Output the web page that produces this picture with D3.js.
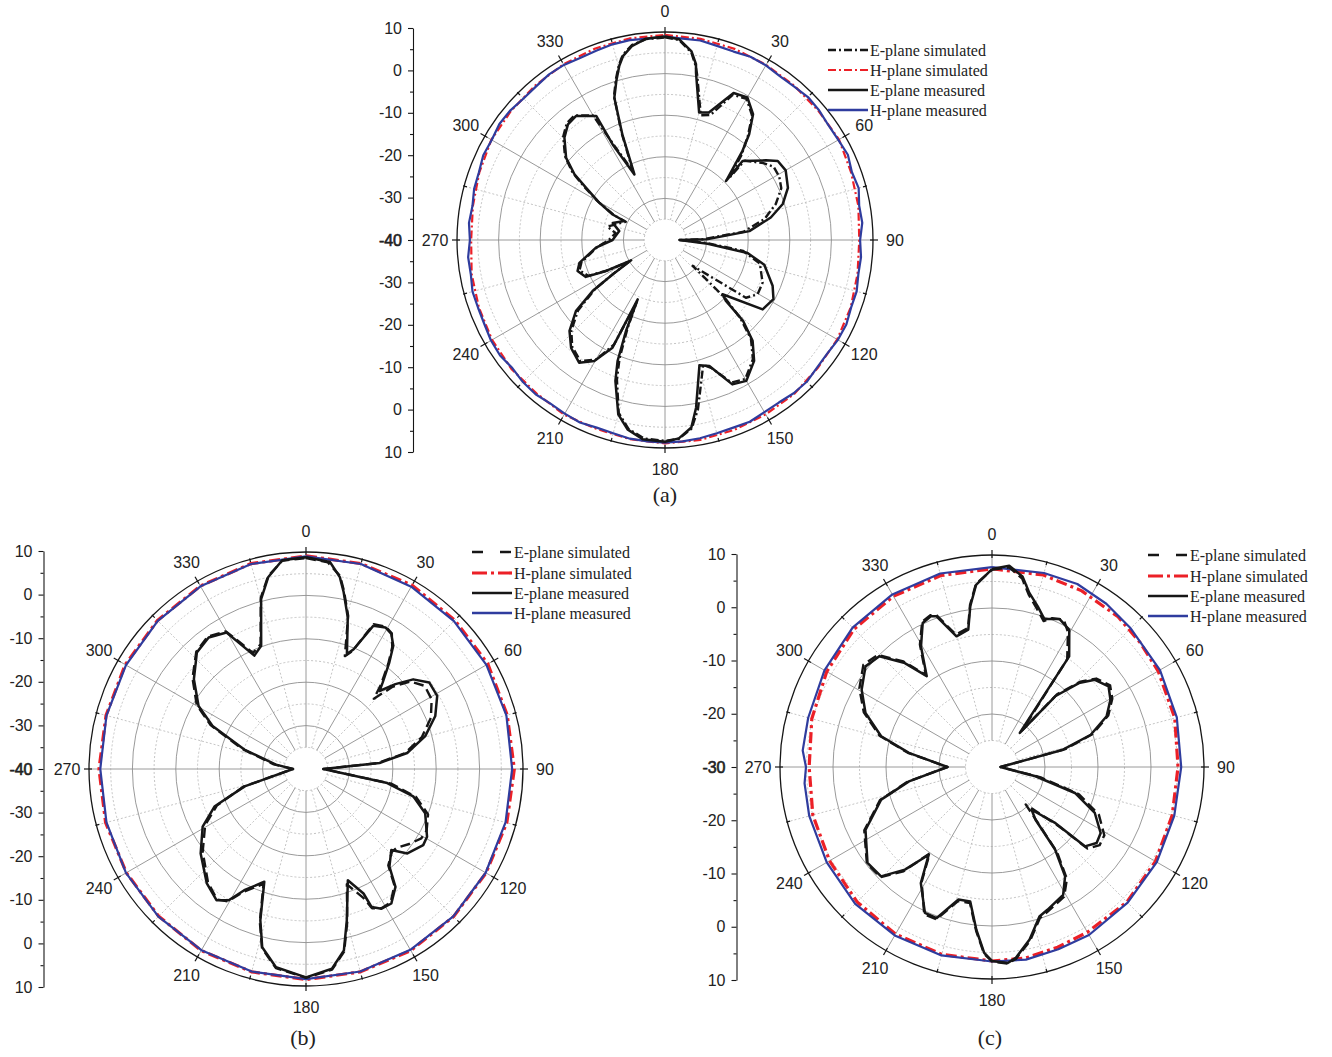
<!DOCTYPE html>
<html>
<head>
<meta charset="utf-8">
<script src="https://cdn.jsdelivr.net/npm/d3@7"></script>
<style>
  body { margin: 0; background: #fff; }
  svg { display: block; }
</style>
</head>
<body>
<svg id="chart" width="1332" height="1057"></svg>
<script>
// ---------- DATA: [angle in degrees, gain in dB] ----------
const angleTicks = [0, 30, 60, 90, 120, 150, 180, 210, 240, 270, 300, 330];
const radialLabelsAB = [10, 0, -10, -20, -30, -40, -30, -20, -10, 0, 10];
const radialLabelsC = [10, 0, -10, -20, -30, -20, -10, 0, 10];
const legendLabels = ['E-plane simulated', 'H-plane simulated', 'E-plane measured', 'H-plane measured'];
const panelNames = ['(a)', '(b)', '(c)'];

// (a)
const aEMeas = [[0,8.9],[4,8.4],[8,5.8],[10,2.9],[10.5,0.9],[15,-8.3],[19,-7.6],[25,-1.0],[30,-0.4],[35,-3.1],[38.5,-7.5],[41,-11.6],[46,-19.6],[44.5,-13.4],[51.7,-9.1],[55,-6.9],[60,-6.5],[67,-7.9],[73,-10.4],[78,-14],[84,-19.6],[89,-30],[90,-36.5],[95,-29.7],[99,-19.9],[104,-15.4],[113,-11.9],[118.6,-10.3],[125.4,-11.2],[133.3,-21],[135,-19.3],[136,-13],[139,-7.9],[143.6,-3.9],[150,-0.9],[155,-1.7],[160.6,-7.9],[164.6,-8.8],[169.5,1],[172,5.5],[176,7.8],[180,8.5],[186.4,8.2],[191.2,6.4],[195,3.4],[199.4,-4.1],[201.4,-8.75],[203.2,-16.2],[204.7,-24.3],[206,-11.2],[210.3,-6.3],[215,-4],[221,-5.6],[226.4,-8.3],[231.4,-12.6],[234.8,-18.7],[236.7,-25],[239,-30.5],[242.3,-24],[245,-19],[250.5,-17.7],[255,-18.7],[263.7,-23.3],[270,-27.4],[281,-28.8],[288,-26.8],[295,-29.2],[296,-26],[299.6,-21.8],[303.5,-17.2],[306,-13.1],[309.7,-9.1],[315.5,-5.5],[320,-3.7],[324.3,-3.3],[331,-5.9],[331.3,-13.8],[335,-22.6],[338,-12.6],[340.4,-3.7],[343,0],[345.3,3.3],[347.2,5.4],[350.3,7.3],[354.6,8.6],[360,8.9]];
const aESim = [[0,8.7],[4,8.2],[8,5.5],[10,2.5],[11,0.5],[16,-8.8],[20,-8.0],[25,-1.5],[30,-0.8],[35,-3.5],[38.5,-8],[42,-12.5],[46,-18.5],[45,-13],[52,-10],[56,-8.5],[61,-8.6],[66,-9.4],[72,-12],[78,-15.5],[84,-21],[89,-31],[90,-36.5],[94,-30],[98,-21],[104,-16.5],[113.6,-14.4],[120.4,-14.2],[125.5,-16.1],[133,-30.9],[134,-20],[136,-14],[139,-8.5],[143.6,-4.4],[150,-1.4],[155,-2.2],[160,-7.2],[163,-8.6],[169,1.5],[172,5.8],[176,7.9],[180,8.3],[186,8.0],[191,6.2],[195,3.0],[199,-4.5],[201,-9.5],[203,-17],[204.5,-23.5],[206,-12],[210,-6.8],[215,-4.5],[221,-6],[226,-8.7],[231,-13.1],[235,-19.5],[237,-25.5],[239,-30],[242,-24.5],[245,-19.6],[250.5,-18.2],[255,-19.2],[264,-23.6],[270,-26.5],[278,-28],[283,-25.8],[288,-27.6],[295,-29.6],[296,-26.3],[300,-21.2],[303.5,-16.6],[306,-12.6],[310,-8.6],[315.5,-5.1],[320,-3.3],[324,-3.0],[330,-5.4],[331.5,-13.2],[335,-21.8],[338,-12],[340.5,-3.3],[343,0.4],[345.3,3.6],[347.2,5.7],[350.3,7.5],[354.6,8.5],[360,8.7]];
const aHMeas = [[0,8.9],[5,8.6],[10,8.7],[15,8.3],[20,8.2],[25,8.6],[30,8.5],[35,8.1],[40,8.2],[45,8.6],[50,8.4],[55,8.0],[60,8.1],[65,8.5],[70,7.8],[75,8.2],[80,7.4],[85,7.6],[90,6.9],[95,7.3],[100,7.2],[105,7.7],[110,7.6],[115,8.1],[120,8.0],[125,7.6],[130,7.7],[135,8.2],[140,8.1],[145,7.7],[150,7.8],[155,8.2],[160,8.0],[165,8.1],[170,8.4],[175,8.6],[180,8.7],[185,8.6],[190,8.5],[195,8.1],[200,8.0],[205,8.4],[210,8.2],[215,8.0],[220,8.4],[225,8.3],[230,7.9],[235,8.4],[240,8.3],[245,7.9],[250,7.8],[255,7.9],[260,7.4],[265,7.5],[270,6.9],[275,7.3],[280,7.0],[285,7.5],[290,7.6],[295,8.2],[300,8.1],[305,8.6],[310,8.5],[315,8.1],[320,8.2],[325,8.6],[330,8.6],[335,8.3],[340,8.4],[345,8.7],[350,8.8],[355,8.6],[360,8.9]];
const aHSim = [[0,9.3],[10,9.1],[20,8.9],[30,8.6],[40,8.4],[50,8.2],[60,8.3],[70,7.6],[80,7.2],[90,6.7],[100,7.0],[110,7.5],[120,7.8],[130,7.9],[140,8.3],[150,8.4],[160,8.6],[170,8.8],[180,8.9],[190,8.6],[200,8.3],[210,8.5],[220,8.1],[230,8.2],[240,8.0],[250,7.6],[260,7.2],[270,6.6],[280,6.9],[290,7.5],[300,8.2],[310,8.3],[320,8.5],[330,8.8],[340,9.0],[350,9.2],[360,9.3]];

// (b)
const bEMeas = [[0,8.8],[6.6,8.0],[10,4.9],[12,1.7],[15.4,-3.75],[19.6,-11.9],[21.7,-10.3],[25.2,-3.5],[29.3,-2.6],[32.3,-3.2],[35.3,-5.2],[38,-8.8],[41.6,-13.4],[43.3,-15.3],[46.5,-11.6],[50.1,-7.8],[54.9,-5.3],[60.9,-5.4],[67.7,-7.8],[74.6,-11.5],[81,-16.4],[85.3,-23],[90,-36],[99.8,-21],[104.3,-14.5],[110.4,-10.7],[119.2,-8.05],[123,-7.8],[129.8,-9.6],[133.5,-12.9],[139.5,-10.4],[142.8,-5.9],[147.6,-3.3],[151.6,-3.4],[154.6,-4.8],[155.2,-8.4],[159.4,-12.6],[164.9,-3.9],[168.2,2.7],[172.6,6.4],[180,8.0],[188.6,6.2],[193.8,2.3],[196.8,-3.6],[200.3,-12.3],[207,-8.65],[210.5,-4.9],[214.3,-3.4],[220.9,-5.1],[231.3,-8.9],[240.9,-12.75],[247.7,-17.2],[254.2,-25.3],[270,-37],[278.3,-33],[287.5,-25.1],[294.7,-16.3],[300.4,-11.3],[308.7,-6.9],[316.9,-3.2],[323.5,-2.3],[329.8,-3.6],[335.5,-11.3],[340,-9.8],[345.2,0.5],[348.9,5.1],[353.5,8.4],[360,8.8]];
const bESim = [[0,8.6],[6,7.9],[10,5.2],[12,2.0],[15.4,-3.4],[19,-12.5],[21.5,-10.8],[25,-3.2],[29.3,-2.4],[32.3,-3.0],[35.3,-5.6],[38,-9.2],[41.6,-14],[44,-17.5],[46.5,-12.5],[50,-8.6],[55,-6.6],[61,-6.9],[67.7,-8.9],[74.6,-12.3],[81,-17],[85.3,-23.5],[90,-36],[99.8,-20],[104.3,-13.8],[110.4,-10],[117,-8.8],[121,-9.0],[126,-10.6],[131,-12.3],[134,-12.5],[139.5,-10.8],[142.8,-6.3],[147.6,-3.6],[151.6,-3.5],[154.6,-4.5],[156,-7.5],[160.5,-11.8],[164.9,-3.5],[168.2,3.0],[172.6,6.6],[180,8.1],[188.6,6.4],[193.8,2.5],[196.8,-3.2],[200.3,-11.8],[207,-8.2],[210.5,-4.6],[214.3,-3.6],[220.9,-5.5],[231.3,-9.5],[240.9,-13.4],[247.7,-17.8],[254.2,-25],[270,-37],[278.3,-32.5],[287.5,-24.6],[294.7,-15.8],[300.4,-10.8],[308.7,-6.5],[316.9,-3.0],[323.5,-2.0],[329.8,-3.3],[335.5,-10.6],[340,-9.4],[345.2,0.8],[348.9,5.3],[353.5,8.3],[360,8.6]];
const bHMeas = [[0,9.0],[15,8.9],[30,8.5],[45,8.2],[60,8.0],[75,7.8],[90,7.5],[105,7.6],[120,7.8],[135,8.0],[150,8.1],[165,8.3],[180,8.4],[195,8.3],[210,8.2],[225,8.1],[240,7.9],[255,7.6],[270,7.4],[285,7.6],[300,7.9],[315,8.3],[330,8.6],[345,8.9],[360,9.0]];
const bHSim = [[0,9.1],[15,9.0],[30,8.9],[45,8.5],[60,8.4],[75,8.0],[90,8.0],[105,7.9],[120,7.9],[135,8.1],[150,8.3],[165,8.4],[180,8.5],[195,8.4],[210,8.3],[225,8.0],[240,7.8],[255,7.8],[270,7.7],[285,7.7],[300,8.1],[315,8.4],[330,8.7],[345,9.0],[360,9.1]];

// (c)
const cEMeas = [[0,7.35],[4.9,8.1],[9.1,6.4],[12.1,3.6],[15.9,1.5],[19.5,-0.4],[24.5,0.7],[29.4,-0.3],[34.9,-4.55],[39.2,-21.7],[41.8,-12.1],[46,-7.2],[49.7,-4.55],[55.3,-3.25],[60.4,-4.3],[66.1,-6.35],[71.9,-10.4],[76.3,-16.2],[90,-28.4],[102,-21.6],[107.4,-13.6],[114.1,-8.75],[121.3,-6],[126,-5.6],[130.5,-6.95],[131.5,-14],[137.2,-19],[140.5,-17.1],[142.6,-10.4],[146.2,-5.2],[150.9,-2.4],[158.8,-1.1],[162.4,-0.4],[167.7,3.3],[172.9,6.3],[175.4,7.1],[180,6.6],[182.4,5.1],[185.5,0.85],[189.2,-4.3],[194.2,-4.2],[200.1,0.35],[204.7,0.3],[211.5,-4.3],[215.8,-9.6],[220.3,-4.6],[225.4,-0.6],[232.4,-0.35],[243.6,-3.35],[253.6,-8.2],[260.2,-14.1],[270,-21.6],[279.6,-14.1],[285.5,-8.3],[293.1,-4.05],[300.7,-1.4],[308.5,0.5],[314.5,-0.2],[320,-4.4],[324.3,-8.9],[329.5,-3.6],[334.3,0.15],[337.9,0.7],[339.8,0.3],[344.8,-4.45],[350.2,-3.7],[352.3,0.6],[355,4.5],[360,7.35]];
const cESim = [[0,7.2],[4.9,7.8],[9.1,6.0],[12.1,3.2],[15.9,1.0],[19.5,-0.8],[22,0.3],[26,0.9],[29.4,-0.8],[34.9,-5.2],[39.5,-21],[41.8,-11.6],[46,-6.8],[49.7,-4.2],[55.3,-2.9],[60.4,-3.9],[66.1,-6.0],[71.9,-10],[76.3,-15.8],[90,-28.4],[102,-20.6],[107.4,-12.8],[114.1,-7.9],[121.3,-5.2],[126,-4.9],[130.5,-6.3],[131.5,-13],[138,-20.5],[140.5,-16.5],[142.6,-9.8],[146.2,-4.6],[150.9,-2.0],[158.8,-0.8],[162.4,-0.1],[167.7,3.6],[172.9,6.5],[175.4,7.2],[180,6.7],[182.4,5.3],[185.5,1.1],[189.2,-4.0],[194.2,-3.9],[200.1,0.6],[204.7,0.6],[211.5,-4.6],[215.8,-9.9],[220.3,-4.2],[225.4,-0.4],[232.4,-0.2],[243.6,-3.1],[253.6,-8.0],[260.2,-13.9],[270,-21.6],[279.6,-13.9],[285.5,-8.0],[293.1,-3.7],[300.7,-0.9],[308.5,1.0],[314.5,0.2],[320,-4.0],[324.3,-8.6],[329.5,-3.2],[334.3,0.4],[337.9,0.9],[339.8,0.6],[344.8,-4.1],[350.2,-3.4],[352.3,0.9],[355,4.7],[360,7.2]];
const cHMeas = [[0,7.7],[15,7.9],[25,8.1],[35,7.6],[45,7.0],[60,6.6],[75,6.1],[90,5.7],[105,5.6],[120,5.9],[135,6.2],[150,6.6],[160,6.6],[170,6.9],[180,6.7],[195,6.8],[210,6.7],[225,6.5],[240,6.0],[255,5.7],[265,5.5],[270,5.1],[275,5.85],[285,5.9],[300,6.5],[315,7.2],[330,7.6],[345,7.8],[360,7.7]];
const cHSim = [[0,7.4],[15,7.5],[27,7.3],[40,7.0],[50,6.5],[60,6.2],[75,5.7],[90,5.1],[105,5.2],[120,5.6],[135,6.0],[150,6.0],[160,6.2],[170,6.6],[180,6.6],[195,6.6],[210,6.4],[225,6.0],[240,5.4],[255,5.0],[270,4.5],[285,5.2],[300,6.0],[315,6.8],[330,7.2],[345,7.4],[360,7.4]];

// ---------- SETUP ----------
const svg = d3.select('#chart');
const SANS = '"Liberation Sans", Arial, sans-serif';
const SERIF = '"Liberation Serif", "Times New Roman", serif';
const BLACK = '#161616', RED = '#ec2027', BLUE = '#2f3c9e';
const rad = a => a * Math.PI / 180;

const panels = [
  { cx: 665, cy: 240, R: 208, min: -40, axX: 413, axH: 212, labels: radialLabelsAB,
    legX: 828, legY: [50, 70, 90, 110], name: panelNames[0], nameX: 665, nameY: 494,
    eSimDash: '8,3,2,3', eSimLeg: '8,3,2,3', hSimDash: '8,3,2,3', hSimLeg: '8,3,2,3', hSimW: 2.2,
    eMeas: aEMeas, eSim: aESim, hMeas: aHMeas, hSim: aHSim },
  { cx: 306, cy: 769, R: 217, min: -40, axX: 43.5, axH: 218, labels: radialLabelsAB,
    legX: 472, legY: [552, 573, 593, 613], name: panelNames[1], nameX: 303, nameY: 1037,
    eSimDash: '10,5', eSimLeg: '11,17', hSimDash: '11,4,3,4', hSimLeg: '15,4,3,4', hSimW: 3.2,
    eMeas: bEMeas, eSim: bESim, hMeas: bHMeas, hSim: bHSim },
  { cx: 992, cy: 767, R: 212, min: -30, axX: 736.5, axH: 213, labels: radialLabelsC,
    legX: 1148, legY: [555, 576, 596, 616], name: panelNames[2], nameX: 990, nameY: 1037,
    eSimDash: '10,5', eSimLeg: '11,17', hSimDash: '11,4,3,4', hSimLeg: '15,4,3,4', hSimW: 3.2,
    eMeas: cEMeas, eSim: cESim, hMeas: cHMeas, hSim: cHSim }
];

// ---------- DRAW ----------
function drawPanel(p) {
  const g = svg.append('g').attr('transform', 'translate(' + p.cx + ',' + p.cy + ')');
  const r = d3.scaleLinear().domain([p.min, 10]).range([0, p.R]);
  const inner = r(p.min + 5);

  // GRID RINGS
  const rings = d3.range(p.min + 5, 10, 5);
  g.selectAll('.ring').data(rings).join('circle')
    .attr('class', 'ring')
    .attr('r', d => r(d))
    .attr('fill', 'none')
    .attr('stroke', d => d % 10 === 0 ? '#8f8f8f' : '#bdbdbd')
    .attr('stroke-width', 0.9)
    .attr('stroke-dasharray', d => d % 10 === 0 ? null : '2,2');

  // SPOKES
  const spokes = d3.range(0, 360, 15);
  g.selectAll('.spoke').data(spokes).join('line')
    .attr('class', 'spoke')
    .attr('x1', d => inner * Math.sin(rad(d)))
    .attr('y1', d => -inner * Math.cos(rad(d)))
    .attr('x2', d => p.R * Math.sin(rad(d)))
    .attr('y2', d => -p.R * Math.cos(rad(d)))
    .attr('stroke', d => d % 30 === 0 ? '#8f8f8f' : '#bdbdbd')
    .attr('stroke-width', 0.9)
    .attr('stroke-dasharray', d => d % 30 === 0 ? null : '2,2');

  // OUTER CIRCLE + TICKS
  g.append('circle').attr('r', p.R).attr('fill', 'none').attr('stroke', BLACK).attr('stroke-width', 1.3);
  g.selectAll('.atick').data(spokes).join('line')
    .attr('class', 'atick')
    .attr('x1', d => (p.R - 3) * Math.sin(rad(d)))
    .attr('y1', d => -(p.R - 3) * Math.cos(rad(d)))
    .attr('x2', d => (p.R + (d % 30 === 0 ? 5 : 1)) * Math.sin(rad(d)))
    .attr('y2', d => -(p.R + (d % 30 === 0 ? 5 : 1)) * Math.cos(rad(d)))
    .attr('stroke', BLACK)
    .attr('stroke-width', 1.2);

  // ANGLE LABELS
  g.selectAll('.alabel').data(angleTicks).join('text')
    .attr('class', 'alabel')
    .attr('x', d => (p.R + 22) * Math.sin(rad(d)))
    .attr('y', d => -(p.R + 21) * Math.cos(rad(d)))
    .attr('text-anchor', 'middle')
    .attr('dominant-baseline', 'central')
    .attr('font-family', SANS)
    .attr('font-size', 16)
    .attr('fill', '#222')
    .text(d => d);

  // CURVES
  const line = d3.lineRadial().angle(d => rad(d[0])).radius(d => r(d[1]));
  const series = [
    { data: p.hSim, color: RED, width: p.hSimW, dash: p.hSimDash },
    { data: p.hMeas, color: BLUE, width: 2.2, dash: null },
    { data: p.eSim, color: BLACK, width: 2.4, dash: p.eSimDash },
    { data: p.eMeas, color: BLACK, width: 2.5, dash: null }
  ];
  series.forEach(s => {
    g.append('path')
      .datum(s.data)
      .attr('d', line)
      .attr('fill', 'none')
      .attr('stroke', s.color)
      .attr('stroke-width', s.width)
      .attr('stroke-dasharray', s.dash)
      .attr('stroke-linejoin', 'round');
  });

  // RADIAL AXIS (left)
  const span = 10 - p.min;
  const y = d3.scaleLinear().domain([0, 2 * span]).range([p.cy - p.axH, p.cy + p.axH]);
  const ax = svg.append('g').attr('transform', 'translate(' + p.axX + ',0)');
  ax.call(d3.axisLeft(y)
    .tickValues(d3.range(0, 2 * span + 1, 10))
    .tickFormat((d, i) => p.labels[i])
    .tickSize(5).tickSizeOuter(0).tickPadding(6));
  const minor = ax.append('g').call(d3.axisLeft(y)
    .tickValues(d3.range(5, 2 * span, 10))
    .tickFormat('').tickSize(3));
  minor.select('.domain').remove();
  ax.selectAll('path, line').attr('stroke', BLACK).attr('stroke-width', 1.1);
  ax.selectAll('text')
    .attr('font-family', SANS)
    .attr('font-size', 16)
    .attr('fill', '#222');
  ax.selectAll('.tick text').filter(d => d === span)
    .attr('stroke', '#222').attr('stroke-width', 0.6);

  // LEGEND
  const legStyles = [
    { color: BLACK, width: 2.4, dash: p.eSimLeg },
    { color: RED, width: p.hSimW, dash: p.hSimLeg },
    { color: BLACK, width: 2.4, dash: null },
    { color: BLUE, width: 2.4, dash: null }
  ];
  const leg = svg.append('g');
  legendLabels.forEach((t, i) => {
    leg.append('line')
      .attr('x1', p.legX).attr('x2', p.legX + 40)
      .attr('y1', p.legY[i]).attr('y2', p.legY[i])
      .attr('stroke', legStyles[i].color)
      .attr('stroke-width', legStyles[i].width)
      .attr('stroke-dasharray', legStyles[i].dash);
    leg.append('text')
      .attr('x', p.legX + 42).attr('y', p.legY[i])
      .attr('dominant-baseline', 'central')
      .attr('font-family', SERIF)
      .attr('font-size', 16)
      .attr('fill', '#222')
      .text(t);
  });

  // PANEL NAME
  svg.append('text')
    .attr('x', p.nameX).attr('y', p.nameY)
    .attr('text-anchor', 'middle')
    .attr('dominant-baseline', 'central')
    .attr('font-family', SERIF)
    .attr('font-size', 22)
    .attr('fill', '#222')
    .text(p.name);
}

panels.forEach(drawPanel);
</script>
</body>
</html>
